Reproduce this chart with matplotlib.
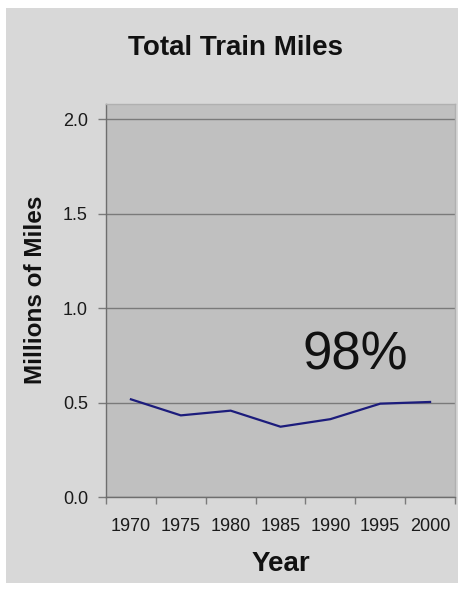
import matplotlib
matplotlib.use("Agg")
import matplotlib.pyplot as plt
from matplotlib.patches import Rectangle
import numpy as np

plt.rcParams["font.family"] = ["Liberation Sans", "DejaVu Sans"]

# data
years = ["1970", "1975", "1980", "1985", "1990", "1995", "2000"]
miles = [0.517, 0.432, 0.457, 0.372, 0.412, 0.494, 0.503]
y_ticks = [0.0, 0.5, 1.0, 1.5, 2.0]
y_tick_labels = ["0.0", "0.5", "1.0", "1.5", "2.0"]

W, H = 459, 592
fig = plt.figure(figsize=(W / 100, H / 100), dpi=100, facecolor="white")

# grey slide panel behind everything
fig.patches.append(Rectangle((6 / W, 1 - 583 / H), (458 - 6) / W, (583 - 8) / H,
                             transform=fig.transFigure, facecolor="#d8d8d8",
                             edgecolor="none", zorder=-10))

ax = fig.add_axes([106 / W, 1 - 497 / H, (455 - 106) / W, (497 - 104) / H])
ax.set_facecolor("#c0c0c0")

x = np.arange(len(years))
ax.plot(x, miles, color="#1c1c7c", lw=1.6, zorder=3)

ax.set_xlim(-0.5, len(years) - 0.5)
ax.set_ylim(0, 2.08)

# gridlines
ax.set_yticks(y_ticks)
ax.set_yticklabels(y_tick_labels, fontsize=13, color="#1a1a1a")
ax.yaxis.grid(True, color="#7a7a7a", lw=1.0)
ax.set_axisbelow(True)
ax.tick_params(axis="y", direction="out", length=6, width=1.0, color="#7a7a7a", pad=7)

# category axis: ticks at boundaries, labels in between
ax.set_xticks(np.arange(-0.5, len(years), 1.0))
ax.set_xticklabels([])
ax.set_xticks(x, minor=True)
ax.set_xticklabels(years, minor=True, fontsize=13, color="#1a1a1a")
ax.tick_params(axis="x", which="major", direction="out", length=5, width=1.0, color="#7a7a7a")
ax.tick_params(axis="x", which="minor", length=0, pad=15)

for side in ["left", "bottom"]:
    ax.spines[side].set_color("#6e6e6e")
    ax.spines[side].set_linewidth(1.0)
for side in ["top", "right"]:
    ax.spines[side].set_color("#b0b0b0")
    ax.spines[side].set_linewidth(1.0)

ax.text(4.5, 0.75, "98%", fontsize=38, ha="center", va="center", color="#111111")

fig.text(236 / W, 1 - 48 / H, "Total Train Miles", fontsize=20, fontweight="bold",
         ha="center", va="center", color="#111111")
fig.text(281 / W, 1 - 564 / H, "Year", fontsize=20, fontweight="bold",
         ha="center", va="center", color="#111111")
fig.text(36 / W, 1 - 290 / H, "Millions of Miles", fontsize=17.5, fontweight="bold",
         ha="center", va="center", rotation=90, color="#111111")

fig.savefig("out.png", dpi=100, facecolor="white")
